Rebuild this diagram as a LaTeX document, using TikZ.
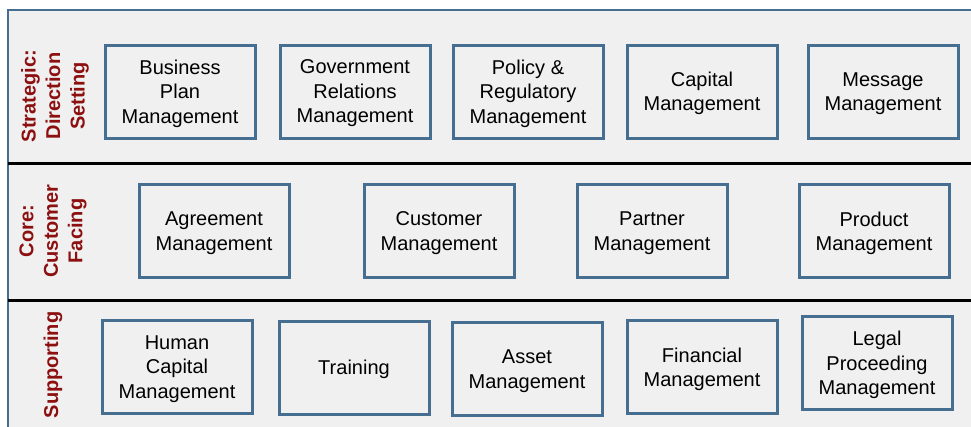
\documentclass[tikz,border=0pt]{standalone}
\usepackage{fontspec}
\setmainfont{Liberation Sans}
\definecolor{boxblue}{RGB}{70,110,145}
\definecolor{laneback}{RGB}{240,240,240}
\definecolor{lanered}{RGB}{140,16,16}
\tikzset{
    capbox/.style={draw=boxblue, line width=3pt, fill=laneback, minimum width=150pt, minimum height=93pt, inner sep=0pt, text depth=-2pt, align=center, font=\fontsize{20}{24.5}\selectfont},
    lanelabel/.style={rotate=90, align=center, text=lanered, font=\bfseries\fontsize{20}{24.5}\selectfont},
    divider/.style={line width=3pt, black}
}
\begin{document}
\begin{tikzpicture}[x=1pt,y=-1pt]
        \useasboundingbox (0,0) rectangle (971,426);
        \clip (0,0) rectangle (971,426);
        \draw[boxblue, line width=2.5pt, fill=laneback] (8,10) rectangle (990,440);
        \draw[divider] (8,163) -- (990,163);
        \draw[divider] (8,300) -- (990,300);

        % lane labels
        \node[lanelabel] (strategic) at (55,96) {Strategic:\\Direction\\Setting};
        \node[lanelabel] (core) at (53,231) {Core:\\Customer\\Facing};
        \node[lanelabel] (supporting) at (53,365) {Supporting};

        % strategic row
        \node[capbox] (business) at (180,91.5) {Business\\Plan\\Management};
        \node[capbox] (government) at (355,91.5) {Government\\Relations\\Management};
        \node[capbox] (policy) at (528,91.5) {Policy \&\\Regulatory\\Management};
        \node[capbox] (capital) at (702,91.5) {Capital\\Management};
        \node[capbox] (message) at (883,91.5) {Message\\Management};

        % core row
        \node[capbox] (agreement) at (214,231) {Agreement\\Management};
        \node[capbox] (customer) at (439,231) {Customer\\Management};
        \node[capbox] (partner) at (652,231) {Partner\\Management};
        \node[capbox] (product) at (874,231) {Product\\Management};

        % supporting row
        \node[capbox] (human) at (177,367) {Human\\Capital\\Management};
        \node[capbox] (training) at (354,367.5) {Training};
        \node[capbox] (asset) at (527,369) {Asset\\Management};
        \node[capbox] (financial) at (702,367) {Financial\\Management};
        \node[capbox] (legal) at (877,363) {Legal\\Proceeding\\Management};
\end{tikzpicture}
\end{document}
